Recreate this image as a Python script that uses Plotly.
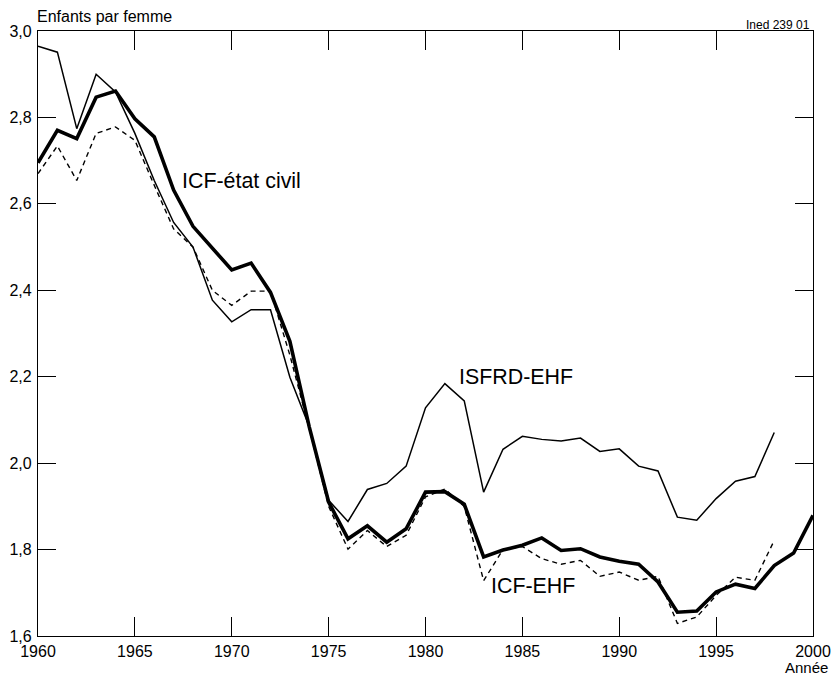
import plotly.graph_objects as go

# Total fertility in France, 1960-2000 (enfants par femme)
years = list(range(1960, 2001))
years_ehf = list(range(1960, 1999))

icf_etat_civil = [
    2.695, 2.770, 2.751, 2.847, 2.861, 2.797, 2.755, 2.632, 2.548, 2.496,
    2.447, 2.463, 2.395, 2.282, 2.084, 1.910, 1.825, 1.855, 1.817, 1.848,
    1.933, 1.934, 1.905, 1.783, 1.799, 1.810, 1.827, 1.798, 1.802, 1.783,
    1.773, 1.766, 1.725, 1.655, 1.658, 1.702, 1.720, 1.710, 1.763, 1.792,
    1.879,
]

isfrd_ehf = [
    2.965, 2.951, 2.774, 2.900, 2.859, 2.763, 2.654, 2.557, 2.500, 2.377,
    2.327, 2.355, 2.355, 2.199, 2.084, 1.914, 1.865, 1.939, 1.953, 1.993,
    2.128, 2.184, 2.144, 1.933, 2.032, 2.062, 2.055, 2.051, 2.058, 2.027,
    2.033, 1.993, 1.982, 1.875, 1.868, 1.918, 1.958, 1.969, 2.071,
]

icf_ehf = [
    2.670, 2.734, 2.654, 2.763, 2.778, 2.747, 2.643, 2.542, 2.500, 2.400,
    2.365, 2.398, 2.398, 2.250, 2.080, 1.900, 1.801, 1.844, 1.807, 1.833,
    1.922, 1.940, 1.900, 1.728, 1.800, 1.807, 1.779, 1.766, 1.775, 1.738,
    1.748, 1.729, 1.738, 1.629, 1.644, 1.694, 1.736, 1.729, 1.821,
]

x_ticks = [1960, 1965, 1970, 1975, 1980, 1985, 1990, 1995, 2000]
x_tick_labels = [str(v) for v in x_ticks]
y_ticks = [1.6, 1.8, 2.0, 2.2, 2.4, 2.6, 2.8, 3.0]
y_tick_labels = ["1,6", "1,8", "2,0", "2,2", "2,4", "2,6", "2,8", "3,0"]

FONT = "Liberation Sans, Arial, Helvetica, sans-serif"

fig = go.Figure()
fig.add_trace(go.Scatter(x=years_ehf, y=isfrd_ehf, mode="lines",
                         line=dict(color="black", width=1.5),
                         name="ISFRD-EHF"))
fig.add_trace(go.Scatter(x=years_ehf, y=icf_ehf, mode="lines",
                         line=dict(color="black", width=1.4, dash="5px,4px"),
                         name="ICF-EHF"))
fig.add_trace(go.Scatter(x=years, y=icf_etat_civil, mode="lines",
                         line=dict(color="black", width=3.6),
                         name="ICF-état civil"))

# Series labels
label_font = dict(family=FONT, size=21.4, color="black")
fig.add_annotation(x=1967.35, y=2.654, text="ICF-état civil", showarrow=False,
                   xanchor="left", yanchor="middle", font=label_font)
fig.add_annotation(x=1981.63, y=2.199, text="ISFRD-EHF", showarrow=False,
                   xanchor="left", yanchor="middle", font=label_font)
fig.add_annotation(x=1983.28, y=1.715, text="ICF-EHF", showarrow=False,
                   xanchor="left", yanchor="middle", font=label_font)

# Axis titles and source reference
fig.add_annotation(x=0, y=1, xref="paper", yref="paper", text="Enfants par femme",
                   showarrow=False, xanchor="left", yanchor="middle", yshift=15,
                   xshift=-3, font=dict(family=FONT, size=16, color="black"))
fig.add_annotation(x=1, y=1, xref="paper", yref="paper", text="Ined 239 01",
                   showarrow=False, xanchor="right", yanchor="middle", yshift=6,
                   xshift=-1, font=dict(family=FONT, size=12, color="black"))
fig.add_annotation(x=1, y=0, xref="paper", yref="paper", text="Année",
                   showarrow=False, xanchor="center", yanchor="middle", yshift=-31,
                   xshift=-7, font=dict(family=FONT, size=15, color="black"))

# Framed axes with inward ticks mirrored on the top and right edges
axis_common = dict(showgrid=False, zeroline=False, showline=True,
                   linecolor="black", linewidth=1.2, mirror="ticks",
                   ticks="inside", tickcolor="black", tickwidth=1.3,
                   automargin=False, layer="above traces",
                   tickfont=dict(family=FONT, size=16, color="black"))

fig.update_xaxes(range=[1960, 2000], tickvals=x_ticks, ticktext=x_tick_labels,
                 ticklen=19, ticklabelstandoff=1, **axis_common)
fig.update_yaxes(range=[1.6, 3.0], tickvals=y_ticks, ticktext=y_tick_labels,
                 ticklen=18, ticklabelstandoff=2, **axis_common)

fig.update_layout(
    width=832, height=676,
    margin=dict(l=38, r=19, t=31, b=40, autoexpand=False),
    paper_bgcolor="white", plot_bgcolor="white",
    showlegend=False,
    font=dict(family=FONT, color="black"),
)

fig.write_html("out.html")
